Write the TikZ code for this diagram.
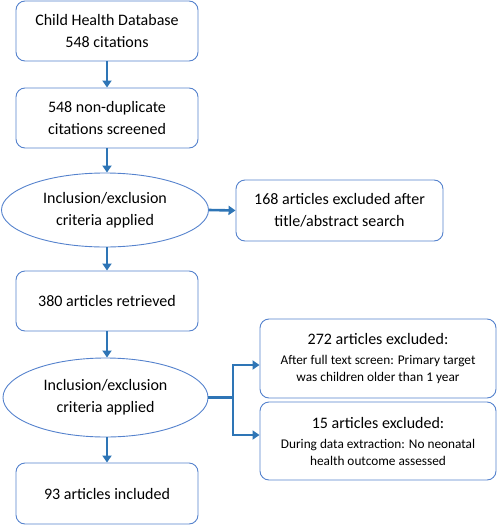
\documentclass[tikz,border=0pt]{standalone}
\usepackage{fontspec}
\setmainfont{Carlito}
\usetikzlibrary{shapes.geometric,arrows.meta}
\definecolor{bord}{RGB}{85,130,205}
\definecolor{arr}{RGB}{46,117,182}
\tikzset{
  box/.style={draw=bord, line width=0.9pt, rounded corners=9pt, align=center, inner sep=0pt, font=\fontsize{16}{22}\selectfont},
  ell/.style={draw=bord, line width=0.9pt, ellipse, align=center, inner sep=0pt, font=\fontsize{16}{22}\selectfont},
  exbox/.style={box, font=\fontsize{13.3}{17}\selectfont},
  flow/.style={draw=arr, line width=2.6pt, -{Triangle[length=7pt,width=9pt]}}
}
\newcommand{\bigt}[1]{{\fontsize{16}{20}\selectfont #1}}
\begin{document}
\begin{tikzpicture}[x=1pt,y=-1pt]
\useasboundingbox (0,0) rectangle (500,525);
\node[box, minimum width=182pt, minimum height=60pt] (b1) at (107,31) {Child Health Database\\548 citations};
\node[box, minimum width=182pt, minimum height=60pt] (b2) at (107,118) {548 non-duplicate\\citations screened};
\node[ell, minimum width=207pt, minimum height=74pt] (e1) at (105,210) {Inclusion/exclusion\\criteria applied};
\node[box, minimum width=207pt, minimum height=61pt] (x1) at (339.5,210.5) {168 articles excluded after\\title/abstract search};
\node[box, minimum width=182pt, minimum height=60pt] (b3) at (107,301) {380 articles retrieved};
\node[ell, minimum width=205pt, minimum height=79pt] (e2) at (105.5,397.5) {Inclusion/exclusion\\criteria applied};
\node[box, minimum width=182pt, minimum height=61pt] (b4) at (107,493.5) {93 articles included};
\node[exbox, minimum width=236pt, minimum height=79pt] (x2) at (378,358.5) {\bigt{272 articles excluded:}\\[3pt]After full text screen: Primary target\\was children older than 1 year};
\node[exbox, minimum width=236pt, minimum height=78pt] (x3) at (378,441) {\bigt{15 articles excluded:}\\[3pt]During data extraction: No neonatal\\health outcome assessed};
\draw[flow] (b1.south) -- (b2.north);
\draw[flow] (b2.south) -- (b2.south |- e1.north);
\draw[flow] (e1.east) -- (x1.west);
\draw[flow] (b2.south |- e1.south) -- (b3.north);
\draw[flow] (b3.south) -- (b3.south |- e2.north);
\draw[flow] (b3.south |- e2.south) -- (b4.north);
\coordinate (j) at (233,397.5);
\draw[draw=arr, line width=2.6pt] (e2.east) -- (j);
\draw[flow] (j) |- (x2.west |- 0,365) ;
\draw[flow] (j) |- (x3.west |- 0,435) ;
\end{tikzpicture}
\end{document}
